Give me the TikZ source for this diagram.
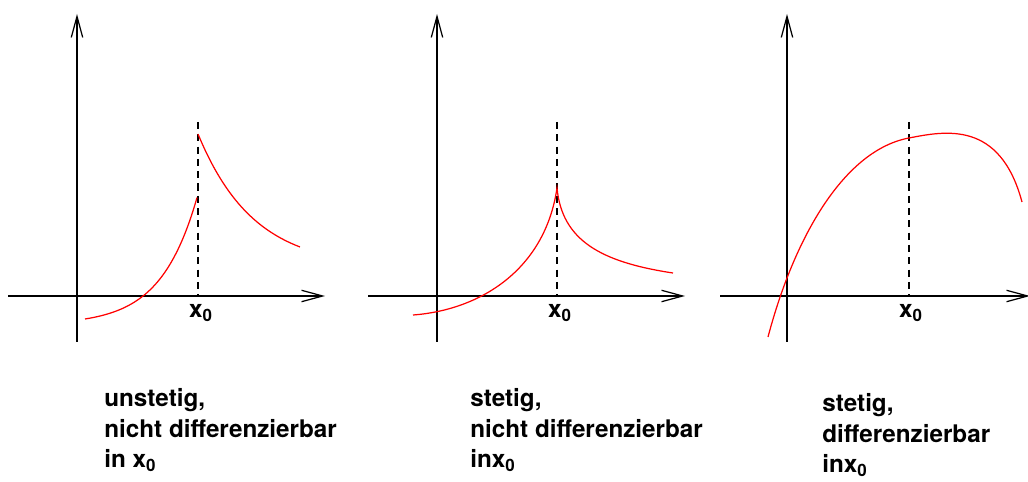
\documentclass[tikz,border=0pt]{standalone}
\usepackage{fontspec}
\setmainfont{TeX Gyre Heros}
\usetikzlibrary{arrows.meta}
\begin{document}
\begin{tikzpicture}[x=0.02cm,y=-0.02cm,
  axis/.style={line width=0.7pt,-{Straight Barb[length=12pt,width=6.5pt]}},
  curve/.style={red,line width=0.7pt},
  guide/.style={line width=0.6pt,dash pattern=on 4pt off 3pt},
  lab/.style={font=\fontsize{13.8}{17.5}\selectfont\bfseries,inner sep=0pt},
  caption/.style={lab,align=left,anchor=base west}]
  \clip (0,0) rectangle (1028,482);
  % unstetig
  \draw[axis] (8,296) -- (325,296);
  \draw[axis] (77,342) -- (77,14);
  \draw[guide] (198,122) -- (198,296);
  \draw[curve] plot[domain=85:197,samples=60] (\x,{324.85-5.85*exp(0.0275*(\x-85))});
  \draw[curve] plot[domain=198:300,samples=60] (\x,{268.4-134.4*exp(-0.018*(\x-198))});
  \node[lab,anchor=base] (x1) at (201,318) {x\textsubscript{0}};
  \node[caption] (c1) at (104,468) {unstetig,\\nicht differenzierbar\\in x\textsubscript{0}};
  % stetig, nicht differenzierbar
  \draw[axis] (368,296) -- (685,296);
  \draw[axis] (437,342) -- (437,14);
  \draw[guide] (557,122) -- (557,296);
  \draw[curve] (413,315) .. controls (480,310) and (545,270) .. (557,188)
    .. controls (562,240) and (600,262) .. (673,273);
  \node[lab,anchor=base] (x2) at (560,318) {x\textsubscript{0}};
  \node[caption] (c2) at (470,468) {stetig,\\nicht differenzierbar\\inx\textsubscript{0}};
  % stetig, differenzierbar
  \draw[axis] (720,296) -- (1030,296);
  \draw[axis] (787,342) -- (787,14);
  \draw[guide] (909,122) -- (909,296);
  \draw[curve] (768,337) .. controls (795,235) and (845,150) .. (909,138)
    .. controls (945,131) and (1000,120) .. (1022,202);
  \node[lab,anchor=base] (x3) at (911,318) {x\textsubscript{0}};
  \node[caption] (c3) at (822,473) {stetig,\\differenzierbar\\inx\textsubscript{0}};
\end{tikzpicture}
\end{document}
